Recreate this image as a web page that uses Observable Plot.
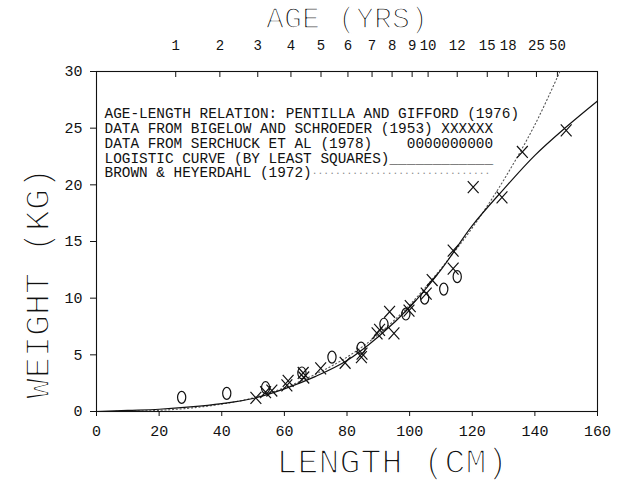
<!DOCTYPE html>
<html><head><meta charset="utf-8">
<script src="https://cdn.jsdelivr.net/npm/d3@7"></script>
<script src="https://cdn.jsdelivr.net/npm/@observablehq/plot@0.6"></script>
<style>body{margin:0;background:#fff}</style>
</head><body><div id="chart"></div>
<script>
// ---- data ----
const lengthTicks = [0, 20, 40, 60, 80, 100, 120, 140, 160];
const weightTicks = [0, 5, 10, 15, 20, 25, 30];
const ageLabels  = ["1", "2", "3", "4", "5", "6", "7", "8", "9", "10", "12", "15", "18", "25", "50"];
const ageLengths = [25.3, 39.4, 51.5, 62.1, 71.7, 80.3, 88.0, 94.4, 100.8, 105.9, 115.2, 124.8, 131.5, 140.5, 147.2];

const bigelowLen = [50.9, 54.0, 56.0, 60.8, 61.2, 66.2, 66.0, 71.6, 79.4, 84.6, 84.8, 89.6, 90.4, 93.6, 95.0, 99.8, 100.2, 105.3, 107.2, 113.9, 113.9, 120.3, 129.5, 136.0, 150.0];
const bigelowWt  = [1.2, 1.7, 1.85, 2.3, 2.7, 3.0, 3.4, 3.8, 4.3, 4.8, 5.1, 6.9, 7.2, 8.8, 6.9, 8.9, 9.3, 10.4, 11.6, 14.2, 12.6, 19.8, 18.9, 22.9, 24.8];

const serchuckLen = [27.2, 41.6, 54.0, 65.6, 75.2, 84.5, 91.8, 98.8, 104.8, 110.9, 115.2];
const serchuckWt  = [1.25, 1.6, 2.1, 3.4, 4.8, 5.6, 7.7, 8.6, 10.0, 10.8, 11.9];

const logisticLen = [0, 10, 20, 30, 40, 50, 60, 70, 80, 90, 100, 110, 120, 130, 140, 150, 160];
const logisticWt  = [0, 0.1, 0.2, 0.4, 0.7, 1.15, 2.0, 3.1, 4.5, 6.6, 9.2, 12.5, 16.4, 19.6, 22.6, 25.1, 27.4];

const brownLen = [0, 10, 20, 30, 40, 50, 60, 70, 80, 90, 100, 110, 120, 130, 140, 148];
const brownWt  = [0, 0.02, 0.1, 0.3, 0.65, 1.2, 2.1, 3.3, 4.8, 6.8, 9.4, 12.6, 16.2, 20.4, 25.3, 30.0];

const legendLines = [
  "AGE-LENGTH RELATION: PENTILLA AND GIFFORD (1976)",
  "DATA FROM BIGELOW AND SCHROEDER (1953) XXXXXX",
  "DATA FROM SERCHUCK ET AL (1978)    0000000000",
  "LOGISTIC CURVE (BY LEAST SQUARES)____________",
  "BROWN & HEYERDAHL (1972)"
];
const topTitle = "AGE (YRS)";
const xTitle = "LENGTH (CM)";
const yTitle = "WEIGHT (KG)";

// ---- tables ----
const zip = (a, b) => a.map((x, i) => ({x, y: b[i]}));
const bigelow = zip(bigelowLen, bigelowWt);
const serchuck = zip(serchuckLen, serchuckWt);
const logistic = zip(logisticLen, logisticWt);
const brown = zip(brownLen, brownWt);
const ageMap = new Map(ageLengths.map((l, i) => [l, ageLabels[i]]));

const mono = "'Liberation Mono', 'DejaVu Sans Mono', monospace";

// plotter-style symbols
const xSymbol = {draw(ctx, size) {
  const r = Math.sqrt(size / Math.PI), w = r * 0.95, h = r * 1.05;
  ctx.moveTo(-w, -h); ctx.lineTo(w, h); ctx.moveTo(w, -h); ctx.lineTo(-w, h);
}};
const oSymbol = {draw(ctx, size) {
  const r = Math.sqrt(size / Math.PI), rx = r * 0.72, ry = r * 1.05, k = 0.5523;
  ctx.moveTo(rx, 0);
  ctx.bezierCurveTo(rx, ry * k, rx * k, ry, 0, ry);
  ctx.bezierCurveTo(-rx * k, ry, -rx, ry * k, -rx, 0);
  ctx.bezierCurveTo(-rx, -ry * k, -rx * k, -ry, 0, -ry);
  ctx.bezierCurveTo(rx * k, -ry, rx, -ry * k, rx, 0);
  ctx.closePath();
}};

const titleStyle = {fontFamily: mono, fill: "#111", stroke: "white", strokeWidth: 1.6, paintOrder: "normal", textAnchor: "middle"};

const plot = Plot.plot({
  width: 629, height: 482,
  marginLeft: 96, marginRight: 32, marginTop: 71, marginBottom: 71,
  style: {background: "white", color: "#111"},
  x: {domain: [0, 160]},
  y: {domain: [0, 30]},
  marks: [
    Plot.frame({stroke: "#111", strokeWidth: 1.1}),
    Plot.axisX({anchor: "bottom", ticks: lengthTicks, tickSize: 5, tickPadding: 9, fontSize: 15, fontFamily: mono, label: null}),
    Plot.axisX({anchor: "top", ticks: ageLengths, tickFormat: d => ageMap.get(d), tickSize: -5, tickPadding: 27, fontSize: 14, fontFamily: mono, label: null}),
    Plot.axisY({ticks: weightTicks, tickSize: 6, tickPadding: 8, fontSize: 15, fontFamily: mono, label: null}),
    Plot.line(brown, {x: "x", y: "y", curve: "catmull-rom", stroke: "#555", strokeWidth: 1.1, strokeDasharray: "1.2,2.6", clip: true}),
    Plot.line(logistic, {x: "x", y: "y", curve: "catmull-rom", stroke: "#111", strokeWidth: 1.2}),
    Plot.dot(bigelow, {x: "x", y: "y", symbol: xSymbol, r: 5.7, stroke: "#111", strokeWidth: 1.2, fill: "none"}),
    Plot.dot(serchuck, {x: "x", y: "y", symbol: oSymbol, r: 5.7, stroke: "#111", strokeWidth: 1.2, fill: "none"}),
    Plot.text([legendLines.join("\n")], {text: d => d, frameAnchor: "top-left", dx: 8, dy: 36, textAnchor: "start", lineAnchor: "top", lineHeight: 1.03, fontFamily: mono, fontSize: 14.4, fill: "#111"}),
    Plot.text(["..............................."], {text: d => d, frameAnchor: "top-left", dx: 8 + 24 * 8.64, dy: 36 + 4 * 14.8, textAnchor: "start", lineAnchor: "top", fontFamily: mono, fontSize: 9.6, fill: "#888"}),
    Plot.text([topTitle], {text: d => d, frameAnchor: "top", dy: -44, lineAnchor: "bottom", fontSize: 30, letterSpacing: -1.2, ...titleStyle}),
    Plot.text([xTitle], {text: d => d, frameAnchor: "bottom", dx: 45, dy: 61, lineAnchor: "bottom", fontSize: 35, letterSpacing: 1.6, ...titleStyle}),
    Plot.text([yTitle], {text: d => d, frameAnchor: "left", dx: -48, dy: 42, rotate: -90, lineAnchor: "bottom", fontSize: 35, ...titleStyle})
  ]
});
document.getElementById("chart").append(plot);
</script>
</body></html>
